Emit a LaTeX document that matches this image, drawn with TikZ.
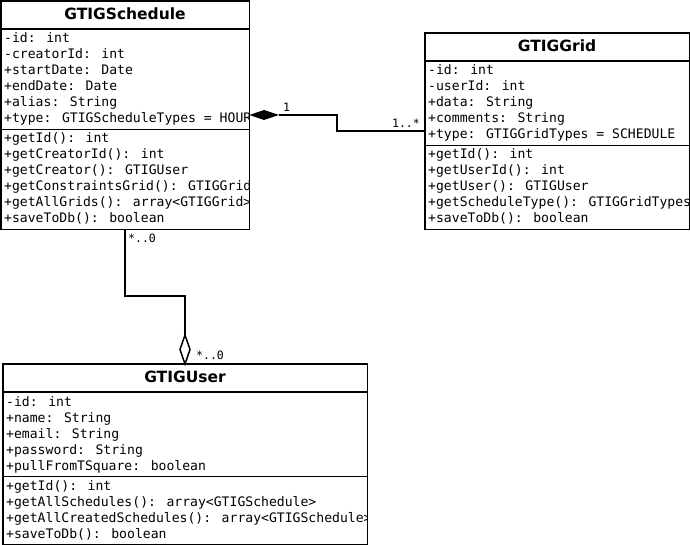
\documentclass[tikz,border=0pt]{standalone}
\usepackage{fontspec}
\newfontfamily\membfont{DejaVu Sans Mono}
\newfontfamily\ttlfont{DejaVu Sans}
\begin{document}
\begin{tikzpicture}[x=1pt,y=-1pt,
  classbox/.style={inner sep=0pt, anchor=north west},
  member/.style={anchor=base west, inner sep=0pt, font=\membfont\fontsize{13.1}{16}\selectfont},
  ttl/.style={anchor=base, inner sep=0pt, font=\ttlfont\bfseries\fontsize{15.5}{18}\selectfont},
  mult/.style={inner sep=0pt, font=\membfont\fontsize{11.5}{13}\selectfont},
  edge/.style={line width=1.5pt},
  border/.style={line width=1.5pt}]
\useasboundingbox (0,0) rectangle (690,545);
\fill[white] (0,0) rectangle (690,545);

% ---------- GTIGSchedule ----------
\node[classbox, minimum width=248pt, minimum height=228pt] (sched) at (1,1) {};
\begin{scope}
\clip (sched.north west) rectangle (sched.south east);
\node[ttl] (schedT) at (125,19.5) {GTIGSchedule};
\node[member] (s1) at (4,43) {-id: int};
\node[member] (s2) at (4,59) {-creatorId: int};
\node[member] (s3) at (4,75) {+startDate: Date};
\node[member] (s4) at (4,91) {+endDate: Date};
\node[member] (s5) at (4,107) {+alias: String};
\node[member] (s6) at (4,123) {+type: GTIGScheduleTypes = HOURS};
\node[member] (s7) at (4,143) {+getId(): int};
\node[member] (s8) at (4,159) {+getCreatorId(): int};
\node[member] (s9) at (4,175) {+getCreator(): GTIGUser};
\node[member] (s10) at (4,191) {+getConstraintsGrid(): GTIGGrid};
\node[member] (s11) at (4,207) {+getAllGrids(): array<GTIGGrid>};
\node[member] (s12) at (4,223) {+saveToDb(): boolean};
\end{scope}
\draw[border] (sched.north west) rectangle (sched.south east);
\draw[border] (1,29) -- (249,29);
\draw[border] (1,129.5) -- (249,129.5);

% ---------- GTIGGrid ----------
\node[classbox, minimum width=264pt, minimum height=196pt] (grid) at (425,33) {};
\begin{scope}
\clip (grid.north west) rectangle (grid.south east);
\node[ttl] (gridT) at (557,51.5) {GTIGGrid};
\node[member] (g1) at (428,75) {-id: int};
\node[member] (g2) at (428,91) {-userId: int};
\node[member] (g3) at (428,107) {+data: String};
\node[member] (g4) at (428,123) {+comments: String};
\node[member] (g5) at (428,139) {+type: GTIGGridTypes = SCHEDULE};
\node[member] (g6) at (428,159) {+getId(): int};
\node[member] (g7) at (428,175) {+getUserId(): int};
\node[member] (g8) at (428,191) {+getUser(): GTIGUser};
\node[member] (g9) at (428,207) {+getScheduleType(): GTIGGridTypes};
\node[member] (g10) at (428,223) {+saveToDb(): boolean};
\end{scope}
\draw[border] (grid.north west) rectangle (grid.south east);
\draw[border] (425,61) -- (689,61);
\draw[border] (425,145.5) -- (689,145.5);

% ---------- GTIGUser ----------
\node[classbox, minimum width=364pt, minimum height=180pt] (user) at (3,364) {};
\begin{scope}
\clip (user.north west) rectangle (user.south east);
\node[ttl] (userT) at (185,382.5) {GTIGUser};
\node[member] (u1) at (6,406) {-id: int};
\node[member] (u2) at (6,422) {+name: String};
\node[member] (u3) at (6,438) {+email: String};
\node[member] (u4) at (6,454) {+password: String};
\node[member] (u5) at (6,470) {+pullFromTSquare: boolean};
\node[member] (u6) at (6,490) {+getId(): int};
\node[member] (u7) at (6,506) {+getAllSchedules(): array<GTIGSchedule>};
\node[member] (u8) at (6,522) {+getAllCreatedSchedules(): array<GTIGSchedule>};
\node[member] (u9) at (6,538) {+saveToDb(): boolean};
\end{scope}
\draw[border] (user.north west) rectangle (user.south east);
\draw[border] (3,392) -- (367,392);
\draw[border] (3,476.5) -- (367,476.5);

% ---------- Schedule -- Grid (composition) ----------
\coordinate (dA) at (sched.east |- 0,115);
\coordinate (dB) at (279,115);
\coordinate (gA) at (grid.west |- 0,131);
\draw[edge] (dB) -- (337,115) -- (337,131) -- (gA);
\fill (dA) -- (264,110) -- (dB) -- (264,120) -- cycle;
\node[mult, anchor=west] (m1) at (283,107) {1};
\node[mult, anchor=east] (m2) at (420,123) {1..*};

% ---------- Schedule -- User (aggregation) ----------
\coordinate (sB) at (sched.south -| 125,0);
\coordinate (uT) at (user.north -| 185,0);
\coordinate (uD) at (185,335);
\draw[edge] (sB) -- (125,296) -- (185,296) -- (uD);
\draw[edge, fill=white] (uT) -- (180,349.5) -- (uD) -- (190,349.5) -- cycle;
\node[mult, anchor=west] (m3) at (128,238) {*..0};
\node[mult, anchor=west] (m4) at (196,355) {*..0};
\end{tikzpicture}
\end{document}
